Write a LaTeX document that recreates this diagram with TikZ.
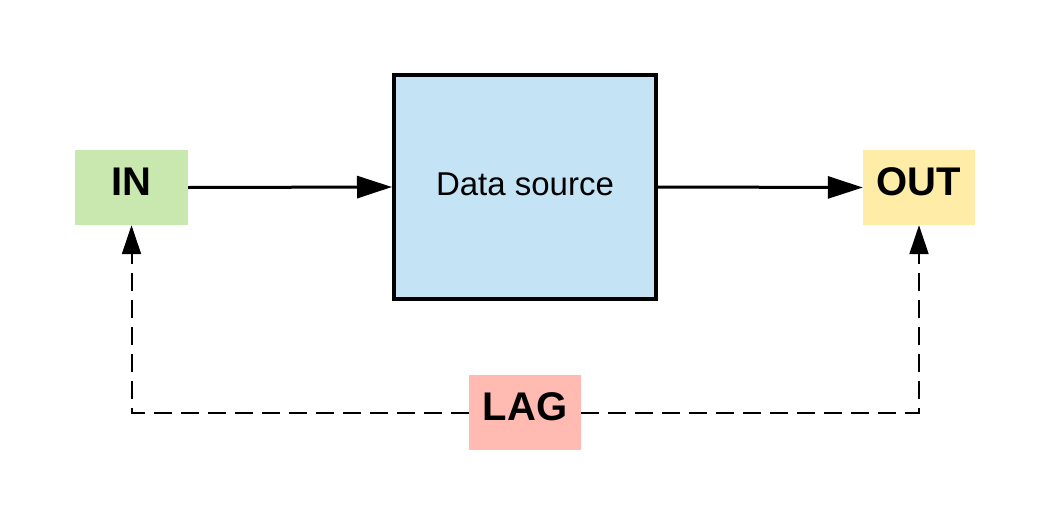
\documentclass[tikz,border=0pt]{standalone}
\usepackage{fontspec}
\setmainfont{Liberation Sans}
\usetikzlibrary{arrows.meta}
\definecolor{ingreen}{RGB}{200,232,176}
\definecolor{dsblue}{RGB}{196,228,245}
\definecolor{outyellow}{RGB}{255,236,166}
\definecolor{lagpink}{RGB}{255,186,178}
\tikzset{
  tag/.style={minimum width=112pt, minimum height=75pt, inner sep=0pt,
    text depth=11pt, font=\fontsize{40}{48}\selectfont\bfseries},
  dsbox/.style={draw=black, line width=4pt, fill=dsblue, minimum width=262pt,
    minimum height=224pt, inner sep=0pt, text depth=6pt,
    font=\fontsize{33}{40}\selectfont},
  flow/.style={line width=3pt, -{Triangle[length=35pt, width=22pt]}},
  lagline/.style={line width=2pt, dash pattern=on 18pt off 9pt,
    -{Triangle[length=29pt, width=19pt]}}
}
\begin{document}
\begin{tikzpicture}[x=1pt, y=-1pt]
\useasboundingbox (0,0) rectangle (1050,525);
\node[tag, fill=ingreen, minimum width=113pt] (in) at (131.5,187.5) {IN};
\node[dsbox] (ds) at (525,187) {Data source};
\node[tag, fill=outyellow] (out) at (919,187.5) {OUT};
\node[tag, fill=lagpink] (lag) at (525,412.5) {LAG};
\draw[lagline] (lag.west) -| (in.south);
\draw[lagline] (lag.east) -| (out.south);
\draw[flow] (in.east) -- (ds.west);
\draw[flow] (ds.east) -- (out.west);
\end{tikzpicture}
\end{document}
